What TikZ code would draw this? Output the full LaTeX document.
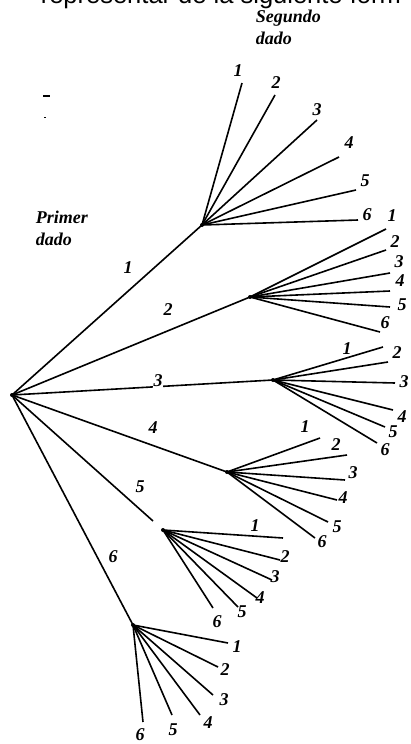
\documentclass[tikz,border=0pt]{standalone}
\usepackage{fontspec}
\setmainfont{Liberation Serif}
\newfontfamily\headfont{Liberation Sans}

\begin{document}
\begin{tikzpicture}[x=1pt, y=-1pt, line width=1.6pt,
  lbl/.style={font=\fontsize{18}{18}\selectfont\bfseries\itshape, inner sep=0.5pt},
  ttl/.style={font=\fontsize{18}{22}\selectfont\bfseries\itshape, align=left, anchor=north west, inner sep=0pt}]
\useasboundingbox (0,0) rectangle (410,744);
\clip (0,0) rectangle (410,744);
% heading line, cut off at the top edge
\node[anchor=base west, inner sep=0, font=\headfont\fontsize{25.5}{25.5}\selectfont] (head) at (40,4) {representar de la siguiente form};
% stray marks
\fill (43,95) rectangle (50,97);
\fill (44,116.5) rectangle (45.5,118);
% titles
\node[ttl] (primer) at (35,210) {Primer\\dado};
\node[ttl] (segundo) at (255,9) {Segundo\\dado};
% root and hubs of the first die
\coordinate (r) at (12,395);
\coordinate (h1) at (202,225);
\coordinate (h2) at (250,297);
\coordinate (h3) at (273,380);
\coordinate (h4) at (227,472);
\coordinate (e5) at (153,521);
\coordinate (h5) at (163,530);
\coordinate (h6) at (133,625);
\draw (r) -- (h1);
\draw (r) -- (h2);
\draw (r) -- (h3);
\draw (r) -- (h4);
\draw (r) -- (e5);
\draw (r) -- (h6);
\fill (r) circle (2);
% first-level labels
\node[lbl] (p1) at (128,268) {1};
\node[lbl] (p2) at (168,310) {2};
\node[lbl, fill=white] (p3) at (158,381) {3};
\node[lbl] (p4) at (153,428) {4};
\node[lbl] (p5) at (140,487) {5};
\node[lbl] (p6) at (113,557) {6};
% second die, one fan per hub
\foreach \n/\ex/\ey/\lx/\ly in {1/242/83/238/71, 2/275/95/276/83, 3/317/120/317/110,
  4/339/157/349/143, 5/356/190/365/181, 6/358/220/367/215} {
  \coordinate (a\n) at (\ex,\ey);
  \draw (h1) -- (a\n);
  \node[lbl] (la\n) at (\lx,\ly) {\n};
}
\foreach \n/\ex/\ey/\lx/\ly in {1/386/229/392/216, 2/386/250/395/242, 3/390/273/399/262,
  4/390/291/400/281, 5/390/307/402/305, 6/380/332/385/323} {
  \coordinate (b\n) at (\ex,\ey);
  \draw (h2) -- (b\n);
  \node[lbl] (lb\n) at (\lx,\ly) {\n};
}
\foreach \n/\ex/\ey/\lx/\ly in {1/383/347/347/349, 2/388/362/397/353, 3/395/383/404/382,
  4/393/410/402/417, 5/385/427/393/432, 6/377/443/385/450} {
  \coordinate (c\n) at (\ex,\ey);
  \draw (h3) -- (c\n);
  \node[lbl, fill=white] (lc\n) at (\lx,\ly) {\n};
}
\foreach \n/\ex/\ey/\lx/\ly in {1/320/438/305/427, 2/347/455/336/445, 3/345/480/353/473,
  4/337/500/343/498, 5/328/522/337/527, 6/315/538/322/542} {
  \coordinate (d\n) at (\ex,\ey);
  \draw (h4) -- (d\n);
  \node[lbl] (ld\n) at (\lx,\ly) {\n};
}
\foreach \n/\ex/\ey/\lx/\ly in {1/283/538/255/526, 2/280/560/285/557, 3/272/580/275/577,
  4/257/598/260/598, 5/238/607/242/612, 6/213/608/217/622} {
  \coordinate (f\n) at (\ex,\ey);
  \draw (h5) -- (f\n);
  \node[lbl] (lf\n) at (\lx,\ly) {\n};
}
\foreach \n/\ex/\ey/\lx/\ly in {1/228/643/237/647, 2/218/667/225/670, 3/213/695/224/700,
  4/200/715/208/723, 5/172/715/173/730, 6/143/722/140/735} {
  \coordinate (g\n) at (\ex,\ey);
  \draw (h6) -- (g\n);
  \node[lbl] (lg\n) at (\lx,\ly) {\n};
}
% hub knots
\foreach \h in {h1,h2,h3,h4,h5,h6} \fill (\h) circle (2);
\end{tikzpicture}
\end{document}
